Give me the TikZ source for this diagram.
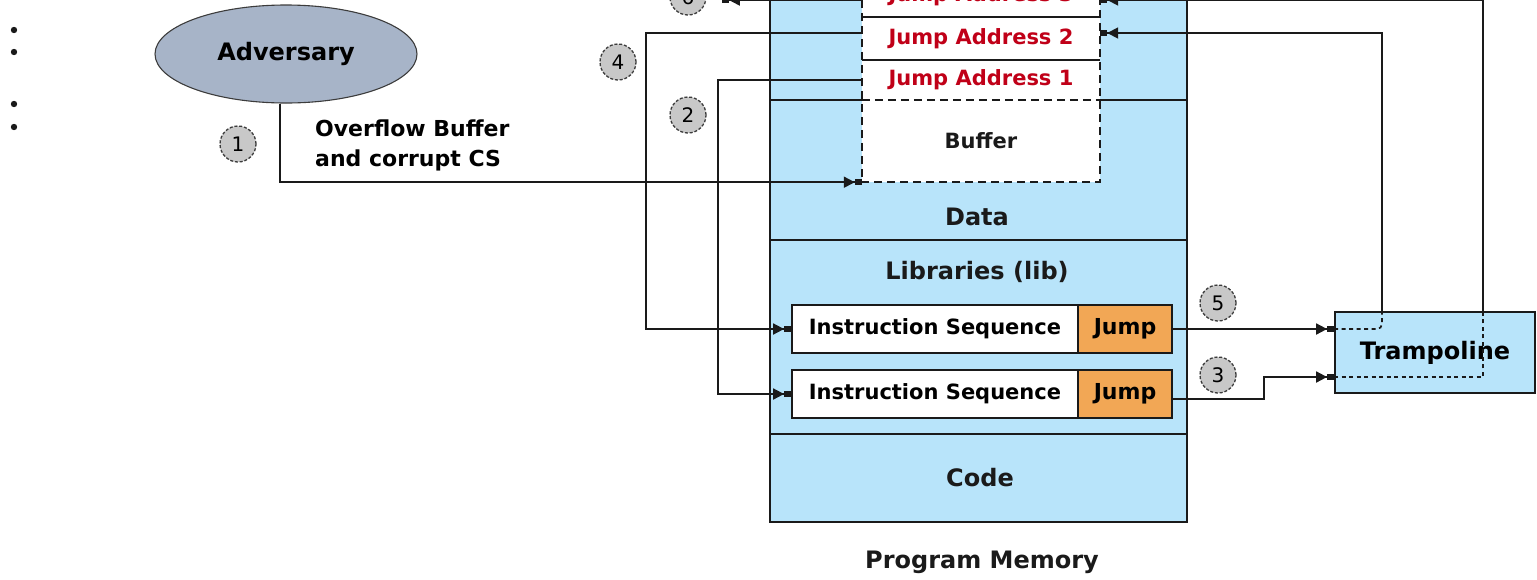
\documentclass[tikz,border=0pt]{standalone}
\usepackage{fontspec}
\setmainfont{DejaVu Sans}
\usetikzlibrary{arrows.meta,shapes.geometric}
\definecolor{memblue}{HTML}{B8E4FA}
\definecolor{jorange}{HTML}{F2A755}
\definecolor{jred}{HTML}{C00018}
\definecolor{advfill}{HTML}{A7B4C8}
\definecolor{circfill}{HTML}{C8C8C8}
\definecolor{ink}{HTML}{1A1A1A}
\begin{document}
\begin{tikzpicture}[x=1pt,y=-1pt,
  region/.style={draw=ink,line width=1.8pt,fill=memblue,minimum width=417pt,inner sep=0pt},
  stackrow/.style={fill=white,minimum width=238pt,inner sep=0pt,font=\fontsize{21}{24}\selectfont\bfseries,text=jred},
  lbl/.style={inner sep=0pt,font=\fontsize{24}{28}\selectfont\bfseries,text=ink},
  isbox/.style={draw=ink,line width=1.8pt,fill=white,minimum height=48pt,minimum width=286pt,inner sep=0pt,font=\fontsize{21}{24}\selectfont\bfseries},
  jbox/.style={draw=ink,line width=1.8pt,fill=jorange,minimum height=48pt,minimum width=94pt,inner sep=0pt,font=\fontsize{22}{24}\selectfont\bfseries},
  stepnum/.style={circle,draw=ink!85,dash pattern=on 3pt off 1.8pt,line width=1.3pt,fill=circfill,minimum size=36pt,inner sep=0pt,font=\fontsize{20}{22}\selectfont},
  conn/.style={draw=ink,line width=1.8pt,-{Triangle[length=11pt,width=11pt]Rectangle[length=7pt,width=6pt]}},
  plain/.style={draw=ink,line width=1.7pt},
  tdot/.style={draw=ink,line width=1.7pt,dash pattern=on 4pt off 3.5pt},
  sdash/.style={draw=ink,line width=1.7pt,dash pattern=on 8pt off 5pt}]
\useasboundingbox (0,0) rectangle (1537,579);
\clip (0,0) rectangle (1537,579);
% bullets
\fill[ink] (14,30) circle (3.2);
\fill[ink] (14,52) circle (3.2);
\fill[ink] (14,104) circle (3.2);
\fill[ink] (14,127) circle (3.2);
% memory regions
\node[region,minimum height=160pt] (stackreg) at (978.5,20) {};
\node[region,minimum height=140pt] (datareg) at (978.5,170) {};
\node[region,minimum height=194pt] (libreg) at (978.5,337) {};
\node[region,minimum height=88pt] (codereg) at (978.5,478) {};
% stack column
\node[stackrow,minimum height=43pt] (ja3) at (981,-4.5) {Jump Address 3};
\node[stackrow,minimum height=43pt] (ja2) at (981,38.5) {Jump Address 2};
\node[stackrow,minimum height=40pt] (ja1) at (981,80) {Jump Address 1};
\node[stackrow,minimum height=82pt,text=ink] (buf) at (981,141) {Buffer};
\draw[sdash] (ja3.north west) -- (buf.south west) -- (buf.south east) -- (ja3.north east);
\draw[plain] (ja3.south west) -- (ja3.south east);
\draw[plain] (ja2.south west) -- (ja2.south east);
\draw[sdash] (buf.north west) -- (buf.north east);
% labels
\node[lbl] (datalbl) at (977,217) {Data};
\node[lbl] (liblbl) at (977,272) {Libraries (lib)};
\node[lbl] (codelbl) at (980,478) {Code};
\node[lbl] (pmlbl) at (982,562) {Program Memory};
% instruction sequences
\node[isbox] (is1) at (935,329) {Instruction Sequence};
\node[jbox] (j1) at (1125,329) {Jump};
\node[isbox] (is2) at (935,394) {Instruction Sequence};
\node[jbox] (j2) at (1125,394) {Jump};
% trampoline
\node[draw=ink,line width=1.8pt,fill=memblue,minimum width=200pt,minimum height=81pt,inner sep=0pt,font=\fontsize{24}{28}\selectfont\bfseries] (tramp) at (1435,352.5) {\raisebox{-3pt}{Trampoline}};
\coordinate (tin1) at ([yshift=24.5pt]tramp.west);
\coordinate (tin2) at ([yshift=-24.5pt]tramp.west);
\coordinate (t1top) at ([xshift=-53pt]tramp.north);
\coordinate (t2top) at ([xshift=48pt]tramp.north);
% adversary
\node[ellipse,draw=ink!85,line width=1.1pt,fill=advfill,minimum width=262pt,minimum height=98pt,inner sep=0pt,font=\fontsize{24}{28}\selectfont\bfseries] (adv) at (286,54) {Adversary};
\node[anchor=west,align=left,inner sep=0pt,font=\fontsize{22}{30}\selectfont\bfseries] (ovf) at (315,145) {Overflow Buffer\\and corrupt CS};
% step numbers
\node[stepnum] (c1) at (238,144) {1};
\node[stepnum] (c2) at (688,115) {2};
\node[stepnum] (c3) at (1218,375) {3};
\node[stepnum] (c4) at (618,62) {4};
\node[stepnum] (c5) at (1218,303) {5};
\node[stepnum] (c6) at (688,-3) {6};
% connectors
\draw[conn] ([xshift=-6pt]adv.south) |- (buf.south west);
\draw[conn] (ja1.west) -- ++(-144,0) |- (is2.west);
\draw[conn] ([yshift=5.5pt]ja2.west) -- ++(-216,0) |- (is1.west);
\draw[conn] (j1.east) -- (j1.east -| tin1);
\draw[conn] ([yshift=-5pt]j2.east) -- ++(91,0) |- (tin2);
\draw[tdot,rounded corners=5pt] (j1.east -| tin1) -| (t1top);
\draw[tdot] (tin2) -| (t2top);
\draw[conn] (t1top) |- ([yshift=5.5pt]ja2.east);
\draw[conn] (t2top) |- ([yshift=-4.5pt]ja3.east);
\draw[conn] ([yshift=-4.5pt]ja3.west) -- ++(-140,0);
\end{tikzpicture}
\end{document}
